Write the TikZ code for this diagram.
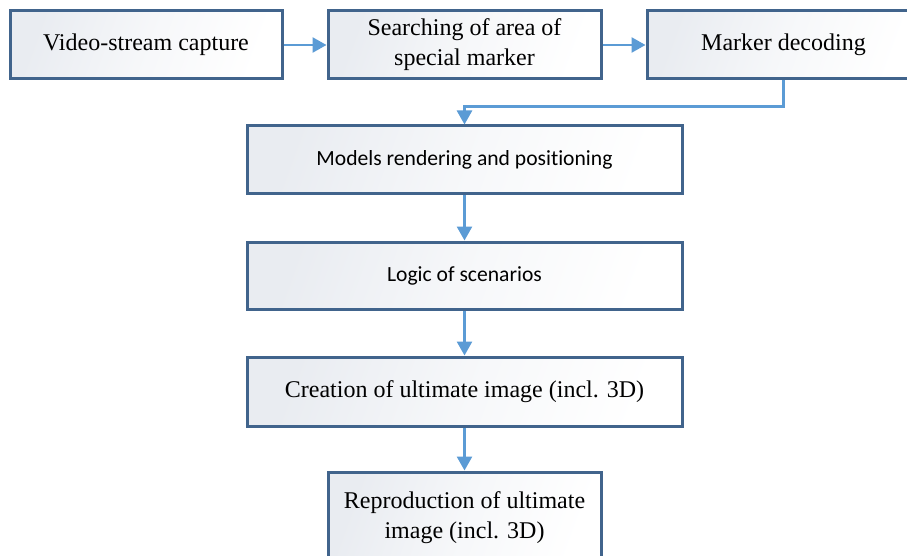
\documentclass[tikz,border=0pt]{standalone}
\usepackage{fontspec}
\setmainfont{Liberation Serif}
\newfontfamily\calfont[Ligatures=NoCommon]{Carlito}
\usetikzlibrary{arrows.meta}
\definecolor{bordc}{HTML}{41648C}
\definecolor{arrc}{HTML}{5B9BD5}
\definecolor{shadec}{HTML}{E9ECF1}
\tikzset{
  box/.style={draw=bordc, line width=3pt, left color=shadec, right color=white,
    middle color=white!60!shadec,
    shading angle=70, inner sep=0pt, align=center,
    font=\fontsize{24}{30}\selectfont},
  sbox/.style={box, font=\calfont\fontsize{21.6}{26}\selectfont},
  arr/.style={draw=arrc, line width=2.6pt, -{Triangle[length=14pt,width=15pt]}}
}
\begin{document}
\begin{tikzpicture}[x=1pt,y=-1pt]
\useasboundingbox (0,0) rectangle (907,556);
\clip (0,0) rectangle (907,556);
\fill[white] (0,0) rectangle (907,556);
\node[box, minimum width=272pt, minimum height=68pt] (b1) at (146,45) {Video-stream capture};
\node[box, minimum width=273pt, minimum height=68pt] (b2) at (464.5,45) {Searching of area of\\special marker};
\node[box, minimum width=273pt, minimum height=68pt] (b3) at (783.5,45) {Marker decoding};
\node[sbox, minimum width=435pt, minimum height=68pt] (b4) at (464.5,160) {Models rendering and positioning};
\node[sbox, minimum width=435pt, minimum height=67pt] (b5) at (464.5,275.5) {Logic of scenarios};
\node[box, minimum width=435pt, minimum height=69pt] (b6) at (464.5,391.5) {Creation of ultimate image (incl. 3D)};
\node[box, minimum width=273pt, minimum height=92pt] (b7) at (464.5,518) {Reproduction of ultimate\\image (incl. 3D)};
\draw[arr] (b1.east) -- (b2.west);
\draw[arr] (b2.east) -- (b3.west);
\draw[arr] (b3.south) -- ++(0,26) -| (b4.north);
\draw[arr] (b4.south) -- (b5.north);
\draw[arr] (b5.south) -- (b6.north);
\draw[arr] (b6.south) -- (b7.north);
\end{tikzpicture}
\end{document}
